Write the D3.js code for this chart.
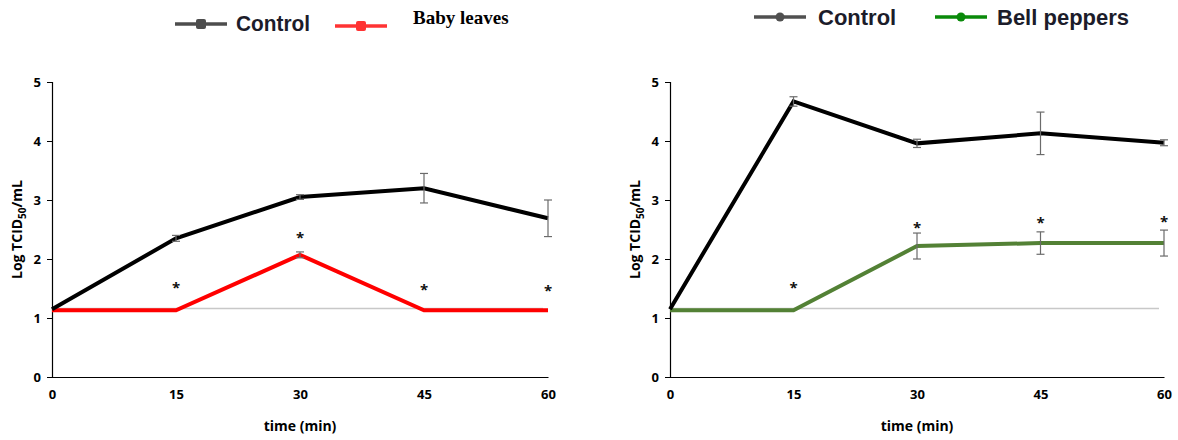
<!DOCTYPE html>
<html>
<head>
<meta charset="utf-8">
<script src="https://cdn.jsdelivr.net/npm/d3@7"></script>
<style>
  body { margin: 0; background: #fff; }
  svg { display: block; }
</style>
</head>
<body>
<svg id="chart" width="1178" height="440"></svg>
<script>
// Sampling times (min) and y-axis ticks
const times = [0, 15, 30, 45, 60];
const yTicks = [0, 1, 2, 3, 4, 5];
const detectionLimit = 1.16;

// Baby leaves panel
const controlA = [1.15, 2.35, 3.05, 3.2, 2.69];
const controlAErr = [0, 0.05, 0.04, 0.25, 0.31];
const babyLeaves = [1.13, 1.13, 2.07, 1.13, 1.13];
const babyLeavesErr = [0, 0, 0.05, 0, 0];
const starsA = [[15, 1.58], [30, 2.43], [45, 1.55], [60, 1.53]];

// Bell peppers panel
const controlB = [1.15, 4.67, 3.96, 4.13, 3.97];
const controlBErr = [0, 0.08, 0.07, 0.36, 0.05];
const bellPeppers = [1.13, 1.13, 2.22, 2.27, 2.27];
const bellPeppersErr = [0, 0, 0.22, 0.19, 0.22];
const starsB = [[15, 1.58], [30, 2.6], [45, 2.67], [60, 2.7]];

const svg = d3.select("#chart");
const tickFont = "'Open Sans', 'Liberation Sans', sans-serif";

function panel(opts) {
  const x = d3.scaleLinear().domain([0, 60]).range([opts.x0, opts.x1]);
  const y = d3.scaleLinear().domain([0, 5]).range([377, 82]);
  const g = svg.append("g");

  // y axis
  const yAx = g.append("g")
    .attr("transform", `translate(${opts.x0},0)`)
    .call(d3.axisLeft(y).tickValues(yTicks).tickSize(5).tickPadding(6).tickFormat(d3.format("d")));
  yAx.select(".domain").attr("stroke", "#000").attr("stroke-width", 1.2);
  yAx.selectAll(".tick line").attr("stroke", "#000");
  yAx.selectAll("text").attr("font-family", tickFont).attr("font-weight", "bold")
    .attr("font-size", 13).attr("fill", "#000");

  // x axis
  const xAx = g.append("g")
    .attr("transform", `translate(0,${y(0)})`)
    .call(d3.axisBottom(x).tickValues(times).tickSize(0).tickPadding(13).tickFormat(d3.format("d")));
  xAx.select(".domain").attr("stroke", "#000").attr("stroke-width", 1.2);
  xAx.selectAll("text").attr("font-family", tickFont).attr("font-weight", "bold")
    .attr("font-size", 13).attr("fill", "#000");

  // axis titles
  g.append("text")
    .attr("x", (opts.x0 + opts.x1) / 2).attr("y", 431)
    .attr("text-anchor", "middle")
    .attr("font-family", tickFont).attr("font-weight", "bold").attr("font-size", 14)
    .text("time (min)");
  const yt = g.append("text")
    .attr("transform", `translate(${opts.x0 - 30},${y(2.5)}) rotate(-90)`)
    .attr("text-anchor", "middle")
    .attr("font-family", tickFont).attr("font-weight", "bold").attr("font-size", 14);
  yt.append("tspan").text("Log TCID");
  yt.append("tspan").attr("font-size", 10).attr("dy", 4).text("50");
  yt.append("tspan").attr("dy", -4).text("/mL");

  // detection limit line
  g.append("line")
    .attr("x1", x(0)).attr("x2", x(60) - 5)
    .attr("y1", y(detectionLimit)).attr("y2", y(detectionLimit))
    .attr("stroke", "#c8c8c8").attr("stroke-width", 1.5);

  const line = d3.line().x((d, i) => x(times[i])).y(d => y(d));

  function series(vals, errs, color) {
    g.append("path").datum(vals)
      .attr("d", line)
      .attr("fill", "none").attr("stroke", color).attr("stroke-width", 4)
      .attr("stroke-linejoin", "miter");
    const eb = g.append("g").attr("stroke", "#6b6b6b").attr("stroke-width", 1.2);
    vals.forEach((v, i) => {
      if (!errs[i]) return;
      const cx = x(times[i]);
      eb.append("line").attr("x1", cx).attr("x2", cx).attr("y1", y(v - errs[i])).attr("y2", y(v + errs[i]));
      [v - errs[i], v + errs[i]].forEach(e =>
        eb.append("line").attr("x1", cx - 4).attr("x2", cx + 4).attr("y1", y(e)).attr("y2", y(e)));
    });
  }
  series(opts.treat, opts.treatErr, opts.color);
  series(opts.ctrl, opts.ctrlErr, "#000");

  // significance marks
  g.selectAll(".star").data(opts.stars).join("text")
    .attr("x", d => x(d[0])).attr("y", d => y(d[1]) + 9)
    .attr("text-anchor", "middle")
    .attr("font-family", tickFont).attr("font-weight", "bold").attr("font-size", 15)
    .attr("fill", "#111")
    .text("*");
}

panel({ x0: 52, x1: 548, ctrl: controlA, ctrlErr: controlAErr, treat: babyLeaves,
        treatErr: babyLeavesErr, color: "#ff0000", stars: starsA });
panel({ x0: 670, x1: 1164, ctrl: controlB, ctrlErr: controlBErr, treat: bellPeppers,
        treatErr: bellPeppersErr, color: "#538135", stars: starsB });

// legends
function legendItem(lx, ly, color, marker) {
  const lg = svg.append("g");
  lg.append("line").attr("x1", lx).attr("x2", lx + 52).attr("y1", ly).attr("y2", ly)
    .attr("stroke", color).attr("stroke-width", 3.5);
  if (marker === "circle") {
    lg.append("circle").attr("cx", lx + 26).attr("cy", ly).attr("r", 4.5).attr("fill", color);
  } else {
    lg.append("rect").attr("x", lx + 21).attr("y", ly - 5).attr("width", 10).attr("height", 10)
      .attr("rx", 2).attr("fill", color);
  }
}
const legFont = "'Liberation Sans', Arial, sans-serif";
legendItem(175, 24, "#4d4d4d", "rect");
svg.append("text").attr("x", 236).attr("y", 31).attr("font-family", legFont)
  .attr("font-weight", "bold").attr("font-size", 22).attr("fill", "#1c1c2a")
  .attr("textLength", 74).attr("lengthAdjust", "spacingAndGlyphs").text("Control");
legendItem(335, 26, "#ff3333", "rect");
svg.append("text").attr("x", 413).attr("y", 24).attr("font-family", "'Liberation Serif', 'Times New Roman', serif")
  .attr("font-weight", "bold").attr("font-size", 19).attr("fill", "#000").text("Baby leaves");

legendItem(754, 17, "#505050", "circle");
svg.append("text").attr("x", 818).attr("y", 25).attr("font-family", legFont)
  .attr("font-weight", "bold").attr("font-size", 22).attr("fill", "#1c1c2a").text("Control");
legendItem(935, 17, "#0a8a0a", "circle");
svg.append("text").attr("x", 997).attr("y", 25).attr("font-family", legFont)
  .attr("font-weight", "bold").attr("font-size", 22).attr("fill", "#1c1c2a").text("Bell peppers");
</script>
</body>
</html>
